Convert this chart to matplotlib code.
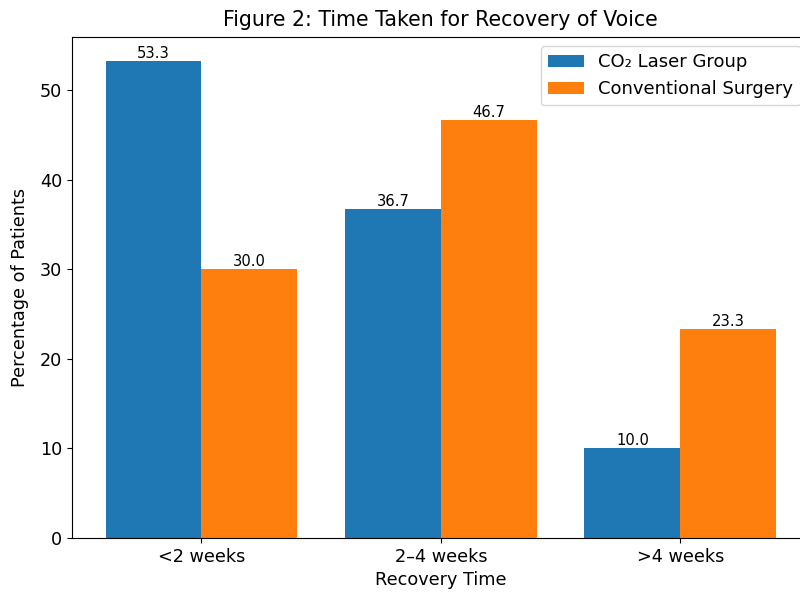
import matplotlib
matplotlib.use('Agg')
import matplotlib.pyplot as plt
import numpy as np

# data
categories = ['<2 weeks', '2–4 weeks', '>4 weeks']
laser = [53.3, 36.7, 10.0]
conventional = [30.0, 46.7, 23.3]

x = np.arange(len(categories))
width = 0.4
fs = 12.7

fig = plt.figure(figsize=(8, 5.95), dpi=100)
ax = fig.add_axes([0.09, 0.096, 0.922, 0.842])

b1 = ax.bar(x - width / 2, laser, width, color='#1f77b4', label='CO₂ Laser Group')
b2 = ax.bar(x + width / 2, conventional, width, color='#ff7f0e', label='Conventional Surgery')

ax.bar_label(b1, fmt='%.1f', fontsize=10.6)
ax.bar_label(b2, fmt='%.1f', fontsize=10.6)

ax.set_xticks(x)
ax.set_xticklabels(categories, fontsize=fs)
ax.tick_params(axis='y', labelsize=fs)
ax.tick_params(length=3.7)
ax.set_xlabel('Recovery Time', fontsize=fs)
ax.set_ylabel('Percentage of Patients', fontsize=fs, labelpad=8)

# right edge of the original is cut off
ax.spines['right'].set_visible(False)

ax.set_title('Figure 2: Time Taken for Recovery of Voice', fontsize=14.8, pad=8)

ax.legend(loc='upper right', fontsize=13)

fig.savefig('out.png', dpi=100)
